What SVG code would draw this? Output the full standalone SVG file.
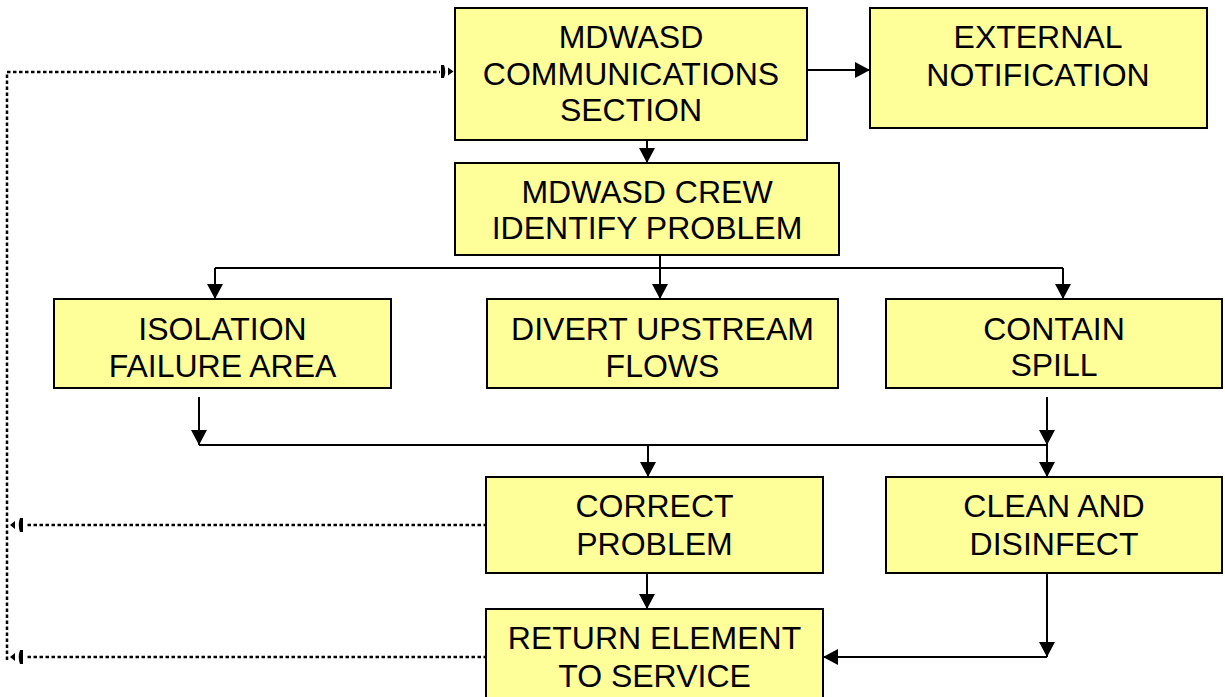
<svg xmlns="http://www.w3.org/2000/svg" width="1225" height="697" viewBox="0 0 1225 697">
<style>
.box{fill:#FFFF99;stroke:#000;stroke-width:2}
.t{font-family:"Liberation Sans",Arial,sans-serif;font-size:32px;fill:#000;text-anchor:middle}
.c{fill:none;stroke:#000;stroke-width:2}
.d{fill:none;stroke:#000;stroke-width:2.5;stroke-dasharray:3.5,2.5}
.h{fill:#000}
</style>
<defs>
<marker id="ah" markerUnits="userSpaceOnUse" markerWidth="16" markerHeight="16" refX="15" refY="8" orient="auto">
<path d="M0,0 L15,8 L0,16 z" fill="#000"/>
</marker>
</defs>
<rect width="1225" height="697" fill="#fff"/>
<g id="connectors">
<path class="c" d="M647,132 V163" marker-end="url(#ah)"/>
<path class="c" d="M807,70 H870" marker-end="url(#ah)"/>
<path class="c" d="M660,255 V268"/>
<path class="c" d="M215,268 H1063"/>
<path class="c" d="M215,268 V299" marker-end="url(#ah)"/>
<path class="c" d="M660,268 V299" marker-end="url(#ah)"/>
<path class="c" d="M1063,268 V299" marker-end="url(#ah)"/>
<path class="c" d="M199,397 V445" marker-end="url(#ah)"/>
<path class="c" d="M1047,397 V445" marker-end="url(#ah)"/>
<path class="c" d="M199,445 H1047"/>
<path class="c" d="M648,445 V477" marker-end="url(#ah)"/>
<path class="c" d="M1047,445 V477" marker-end="url(#ah)"/>
<path class="c" d="M647,573 V609" marker-end="url(#ah)"/>
<path class="c" d="M1047,573 V657" marker-end="url(#ah)"/>
<path class="c" d="M1047,657 H823" marker-end="url(#ah)"/>
<path class="d" d="M7,660 V72 H440"/>
<path class="h" d="M441,65 H444 Q446.5,71.5 444,78 H441 Z"/>
<path class="h" d="M448,67.5 L453.5,71.5 L448,75.5 Z"/>
<path class="d" d="M487,525 H26"/>
<path class="h" d="M23,518 H20 Q17.5,525 20,532 H23 Z"/>
<path class="h" d="M15,521 L10,525 L15,529 Z"/>
<path class="d" d="M487,657 H26"/>
<path class="h" d="M23,650 H20 Q17.5,657 20,664 H23 Z"/>
<path class="h" d="M15,653 L10,657 L15,661 Z"/>
</g>
<g id="comm">
<rect class="box" x="455" y="8" width="352" height="132"/>
<text class="t" x="631" y="48">MDWASD</text>
<text class="t" x="631" y="85">COMMUNICATIONS</text>
<text class="t" x="631" y="121">SECTION</text>
</g>
<g id="external">
<rect class="box" x="870" y="8" width="337" height="120"/>
<text class="t" x="1038" y="48">EXTERNAL</text>
<text class="t" x="1038" y="86">NOTIFICATION</text>
</g>
<g id="crew">
<rect class="box" x="455" y="163" width="384" height="92"/>
<text class="t" x="647" y="203">MDWASD CREW</text>
<text class="t" x="647" y="239">IDENTIFY PROBLEM</text>
</g>
<g id="isolation">
<rect class="box" x="54" y="299" width="337" height="89"/>
<text class="t" x="222.5" y="340">ISOLATION</text>
<text class="t" x="222.5" y="377">FAILURE AREA</text>
</g>
<g id="divert">
<rect class="box" x="487" y="299" width="351" height="89"/>
<text class="t" x="662.5" y="340">DIVERT UPSTREAM</text>
<text class="t" x="662.5" y="377">FLOWS</text>
</g>
<g id="contain">
<rect class="box" x="886" y="299" width="336" height="89"/>
<text class="t" x="1054" y="340">CONTAIN</text>
<text class="t" x="1054" y="376">SPILL</text>
</g>
<g id="correct">
<rect class="box" x="486" y="477" width="337" height="96"/>
<text class="t" x="654.5" y="517">CORRECT</text>
<text class="t" x="654.5" y="555">PROBLEM</text>
</g>
<g id="clean">
<rect class="box" x="886" y="477" width="336" height="96"/>
<text class="t" x="1054" y="517">CLEAN AND</text>
<text class="t" x="1054" y="555">DISINFECT</text>
</g>
<g id="return">
<rect class="box" x="486" y="609" width="337" height="100"/>
<text class="t" x="654.5" y="649">RETURN ELEMENT</text>
<text class="t" x="654.5" y="687">TO SERVICE</text>
</g>
</svg>
